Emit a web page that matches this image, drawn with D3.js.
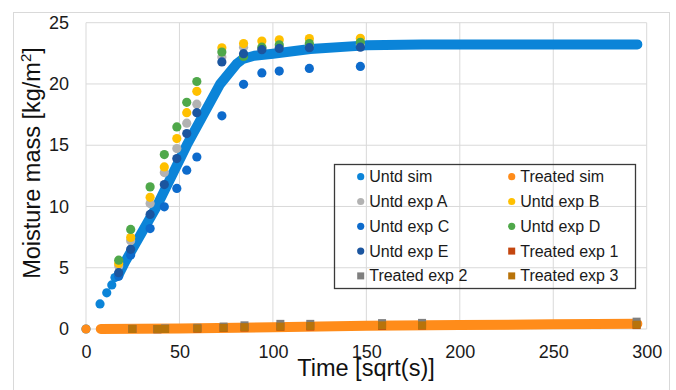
<!DOCTYPE html>
<html>
<head>
<meta charset="utf-8">
<script src="https://cdn.jsdelivr.net/npm/d3@7"></script>
<style>
  body { margin: 0; background: #fff; }
  svg { display: block; font-family: "Liberation Sans", Arial, sans-serif; }
</style>
</head>
<body>
<svg id="chart" width="676" height="390"></svg>
<script>
// untreated simulation: sparse early points, then dense curve
const untdSimDots = [[0, 0], [7.5, 2.05], [11.1, 2.95], [13.8, 3.6], [15.5, 4.2]];
const untdSimCurve = [[17.7, 4.5], [21, 5.5], [37.8, 10], [53.9, 15], [71.8, 20], [80.7, 21.66],
  [84, 22.05], [90, 22.3], [100, 22.47], [120, 22.85], [150, 23.15], [180, 23.22], [295, 23.23]];

// treated simulation
const treatedSimDots = [[0, 0]];
const treatedSimCurve = [[7.9, 0], [50, 0.05], [100, 0.15], [150, 0.26], [200, 0.32], [250, 0.38], [295, 0.42]];

// untreated experiments
const expTimes = [17.5, 23.9, 34.3, 41.9, 48.6, 53.9, 59.3, 72.7, 84.3, 94.1, 103.4, 119.5, 146.8];
const untdExpA = [5.15, 7.2, 10.24, 12.77, 14.73, 16.8, 18.35, 22.2, 23.0, 22.9, 23.0, 23.1, 23.2];
const untdExpB = [5.35, 7.47, 10.75, 13.23, 15.54, 17.66, 19.4, 22.95, 23.3, 23.5, 23.6, 23.7, 23.73];
const untdExpC = [4.3, 6.03, 8.2, 9.97, 11.47, 12.96, 14.04, 17.4, 19.97, 20.9, 21.05, 21.27, 21.43];
const untdExpD = [5.62, 8.13, 11.6, 14.24, 16.49, 18.5, 20.2, 22.6, 22.25, 23.0, 23.2, 23.3, 23.4];
const untdExpE = [4.6, 6.5, 9.35, 11.79, 13.91, 15.95, 17.66, 21.8, 22.47, 22.8, 22.9, 22.96, 23.0];

// treated experiments
const treatedTimes = [24.8, 38.2, 42.3, 59.6, 73.6, 84.8, 104, 120, 158.4, 179.8, 294.6];
const treatedExp1 = [0, -0.02, 0, 0.03, 0.08, 0.12, 0.18, 0.2, 0.25, 0.28, 0.32];
const treatedExp2 = [0.02, -0.02, 0.05, 0.1, 0.2, 0.3, 0.42, 0.42, 0.48, 0.5, 0.6];
const treatedExp3 = [0, 0, 0, 0.05, 0.1, 0.15, 0.2, 0.25, 0.3, 0.3, 0.35];

const xTicks = [0, 50, 100, 150, 200, 250, 300];
const yTicks = [0, 5, 10, 15, 20, 25];

const colors = {
  untdSim: '#0b84d8', treatedSim: '#ff8c1a',
  A: '#b2b2b2', B: '#ffc000', C: '#0d6bcc', D: '#4fa84a', E: '#1b559f',
  T1: '#c4460f', T2: '#7f7f7f', T3: '#b8730a'
};

const svg = d3.select('#chart');
const x = d3.scaleLinear().domain([0, 300]).range([86, 646.7]);
const y = d3.scaleLinear().domain([0, 25]).range([329, 22.7]);

// outer chart border
svg.append('rect')
  .attr('x', 13.5).attr('y', 12.5).attr('width', 656).attr('height', 390)
  .attr('fill', 'none').attr('stroke', '#d9d9d9');

// gridlines
svg.append('g').selectAll('line').data(yTicks).join('line')
  .attr('x1', x(0)).attr('x2', x(300))
  .attr('y1', d => y(d)).attr('y2', d => y(d))
  .attr('stroke', '#d9d9d9').attr('stroke-width', 1);
svg.append('g').selectAll('line').data(xTicks).join('line')
  .attr('x1', d => x(d)).attr('x2', d => x(d))
  .attr('y1', y(0)).attr('y2', y(25))
  .attr('stroke', '#d9d9d9').attr('stroke-width', 1);

// axes (labels only)
const xAxis = svg.append('g').attr('transform', `translate(0,${y(0)})`)
  .call(d3.axisBottom(x).tickValues(xTicks).tickSize(0).tickPadding(16));
const yAxis = svg.append('g').attr('transform', `translate(${x(0)},0)`)
  .call(d3.axisLeft(y).tickValues(yTicks).tickSize(0).tickPadding(17));
[xAxis, yAxis].forEach(a => {
  a.select('.domain').remove();
  a.selectAll('text').attr('font-size', 18).attr('fill', '#1a1a1a')
    .attr('font-family', '"Liberation Sans", Arial, sans-serif');
});

// axis titles
svg.append('text')
  .attr('x', 366).attr('y', 376).attr('text-anchor', 'middle')
  .attr('font-size', 23.5).attr('fill', '#111')
  .text('Time [sqrt(s)]');
const yt = svg.append('text')
  .attr('transform', 'translate(40,163) rotate(-90)')
  .attr('text-anchor', 'middle').attr('font-size', 23.5).attr('fill', '#111');
yt.append('tspan').text('Moisture mass [kg/m');
yt.append('tspan').attr('font-size', 15).attr('dy', -9).text('2');
yt.append('tspan').attr('dy', 9).text(']');

const line = d3.line().x(d => x(d[0])).y(d => y(d[1]));

// simulations
const drawSim = (dots, curve, color) => {
  svg.append('path').datum(curve)
    .attr('d', line).attr('fill', 'none')
    .attr('stroke', color).attr('stroke-width', 10)
    .attr('stroke-linecap', 'round').attr('stroke-linejoin', 'round');
  svg.append('g').selectAll('circle').data(dots).join('circle')
    .attr('cx', d => x(d[0])).attr('cy', d => y(d[1])).attr('r', 4.6)
    .attr('fill', color);
};
drawSim(untdSimDots, untdSimCurve, colors.untdSim);
drawSim(treatedSimDots, treatedSimCurve, colors.treatedSim);

// untreated experiments
const untdSeries = [[untdExpA, colors.A], [untdExpB, colors.B], [untdExpC, colors.C], [untdExpD, colors.D], [untdExpE, colors.E]];
untdSeries.forEach(([vals, color]) => {
  svg.append('g').selectAll('circle').data(vals).join('circle')
    .attr('cx', (d, i) => x(expTimes[i])).attr('cy', d => y(d)).attr('r', 4.6)
    .attr('fill', color);
});

// treated experiments
const treatedSeries = [[treatedExp1, colors.T1], [treatedExp2, colors.T2], [treatedExp3, colors.T3]];
treatedSeries.forEach(([vals, color]) => {
  svg.append('g').selectAll('rect').data(vals).join('rect')
    .attr('x', (d, i) => x(treatedTimes[i]) - 4).attr('y', d => y(d) - 4)
    .attr('width', 8).attr('height', 8)
    .attr('fill', color);
});

// legend
const legendItems = [
  ['Untd sim', colors.untdSim, 'circle'], ['Treated sim', colors.treatedSim, 'circle'],
  ['Untd exp A', colors.A, 'circle'], ['Untd exp B', colors.B, 'circle'],
  ['Untd exp C', colors.C, 'circle'], ['Untd exp D', colors.D, 'circle'],
  ['Untd exp E', colors.E, 'circle'], ['Treated exp 1', colors.T1, 'square'],
  ['Treated exp 2', colors.T2, 'square'], ['Treated exp 3', colors.T3, 'square']
];
svg.append('rect')
  .attr('x', 334.5).attr('y', 164.5).attr('width', 301).attr('height', 124)
  .attr('fill', 'none').attr('stroke', '#3a3a3a').attr('stroke-width', 1.3);
const lg = svg.append('g').selectAll('g').data(legendItems).join('g')
  .attr('transform', (d, i) => `translate(${i % 2 ? 511.7 : 360.7},${176.7 + Math.floor(i / 2) * 24.8})`);
lg.filter(d => d[2] === 'circle').append('circle').attr('r', 3.6).attr('fill', d => d[1]);
lg.filter(d => d[2] === 'square').append('rect')
  .attr('x', -3.5).attr('y', -3.5).attr('width', 7).attr('height', 7).attr('fill', d => d[1]);
lg.append('text').attr('x', 8.5).attr('y', 5.5)
  .attr('font-size', 16).attr('fill', '#1a1a1a').text(d => d[0]);
</script>
</body>
</html>
